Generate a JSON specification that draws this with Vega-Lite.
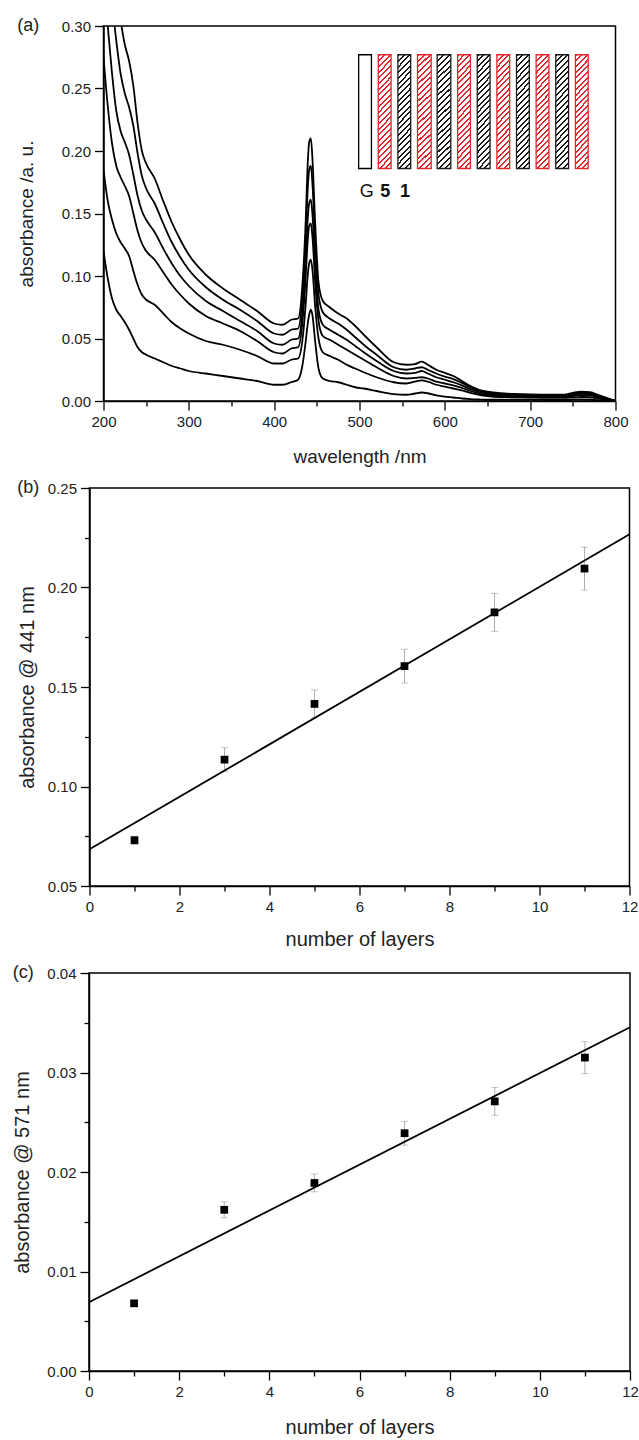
{
  "$schema": "https://vega.github.io/schema/vega-lite/v6.json",
  "padding": {"left": 12, "top": 16, "right": 0, "bottom": 0},
  "config": {
    "font": "Liberation Sans",
    "view": {"stroke": "black", "strokeWidth": 1.5},
    "axis": {"grid": false, "domainColor": "black", "domainWidth": 1.5, "tickColor": "black", "tickWidth": 1.3, "labelFontSize": 15, "labelColor": "#222", "titleFontSize": 19, "titleFontWeight": "normal", "titleColor": "#222", "labelPadding": 4, "labelFlush": false, "labelOverlap": false},
    "title": {"fontSize": 18, "fontWeight": "normal", "anchor": "start", "frame": "bounds", "color": "#222", "offset": -16}
  },
  "datasets": {
    "inset": [
      {"slot": 0, "material": "G", "nm_start": 499, "nm_end": 514},
      {"slot": 1, "material": "5", "nm_start": 522, "nm_end": 537},
      {"slot": 2, "material": "1", "nm_start": 545, "nm_end": 560},
      {"slot": 3, "material": "5", "nm_start": 568, "nm_end": 584},
      {"slot": 4, "material": "1", "nm_start": 591, "nm_end": 607},
      {"slot": 5, "material": "5", "nm_start": 615, "nm_end": 630},
      {"slot": 6, "material": "1", "nm_start": 638, "nm_end": 653},
      {"slot": 7, "material": "5", "nm_start": 661, "nm_end": 676},
      {"slot": 8, "material": "1", "nm_start": 684, "nm_end": 699},
      {"slot": 9, "material": "5", "nm_start": 707, "nm_end": 722},
      {"slot": 10, "material": "1", "nm_start": 730, "nm_end": 745},
      {"slot": 11, "material": "5", "nm_start": 753, "nm_end": 768}
    ]
  },
  "concat": [
    {
      "width": 512,
      "height": 375,
      "title": {"text": "(a)"},
      "layer": [
        {
          "data": {"values": [
            {"layers":1,"wavelength":200,"absorbance":0.120},{"layers":1,"wavelength":205,"absorbance":0.098},{"layers":1,"wavelength":210,"absorbance":0.082},{"layers":1,"wavelength":215,"absorbance":0.073},{"layers":1,"wavelength":220,"absorbance":0.068},{"layers":1,"wavelength":225,"absorbance":0.063},{"layers":1,"wavelength":230,"absorbance":0.057},{"layers":1,"wavelength":235,"absorbance":0.050},{"layers":1,"wavelength":240,"absorbance":0.043},{"layers":1,"wavelength":245,"absorbance":0.039},{"layers":1,"wavelength":250,"absorbance":0.037},{"layers":1,"wavelength":260,"absorbance":0.034},{"layers":1,"wavelength":270,"absorbance":0.031},{"layers":1,"wavelength":280,"absorbance":0.028},{"layers":1,"wavelength":290,"absorbance":0.026},{"layers":1,"wavelength":300,"absorbance":0.024},{"layers":1,"wavelength":320,"absorbance":0.022},{"layers":1,"wavelength":340,"absorbance":0.020},{"layers":1,"wavelength":360,"absorbance":0.018},{"layers":1,"wavelength":380,"absorbance":0.016},{"layers":1,"wavelength":400,"absorbance":0.013},{"layers":1,"wavelength":410,"absorbance":0.013},{"layers":1,"wavelength":420,"absorbance":0.015},{"layers":1,"wavelength":428,"absorbance":0.017},{"layers":1,"wavelength":433,"absorbance":0.028},{"layers":1,"wavelength":437,"absorbance":0.048},{"layers":1,"wavelength":439,"absorbance":0.060},{"layers":1,"wavelength":441,"absorbance":0.069},{"layers":1,"wavelength":443,"absorbance":0.073},{"layers":1,"wavelength":445,"absorbance":0.068},{"layers":1,"wavelength":448,"absorbance":0.048},{"layers":1,"wavelength":452,"absorbance":0.026},{"layers":1,"wavelength":457,"absorbance":0.018},{"layers":1,"wavelength":465,"absorbance":0.016},{"layers":1,"wavelength":475,"absorbance":0.015},{"layers":1,"wavelength":485,"absorbance":0.013},{"layers":1,"wavelength":495,"absorbance":0.011},{"layers":1,"wavelength":505,"absorbance":0.010},{"layers":1,"wavelength":520,"absorbance":0.008},{"layers":1,"wavelength":540,"absorbance":0.0055},{"layers":1,"wavelength":555,"absorbance":0.005},{"layers":1,"wavelength":565,"absorbance":0.006},{"layers":1,"wavelength":573,"absorbance":0.0068},{"layers":1,"wavelength":580,"absorbance":0.0062},{"layers":1,"wavelength":590,"absorbance":0.0045},{"layers":1,"wavelength":600,"absorbance":0.0035},{"layers":1,"wavelength":610,"absorbance":0.0028},{"layers":1,"wavelength":620,"absorbance":0.002},{"layers":1,"wavelength":630,"absorbance":0.0015},{"layers":1,"wavelength":640,"absorbance":0.0012},{"layers":1,"wavelength":650,"absorbance":0.001},{"layers":1,"wavelength":665,"absorbance":0.001},{"layers":1,"wavelength":680,"absorbance":0.001},{"layers":1,"wavelength":700,"absorbance":0.001},{"layers":1,"wavelength":720,"absorbance":0.0008},{"layers":1,"wavelength":740,"absorbance":0.0008},{"layers":1,"wavelength":750,"absorbance":0.001},{"layers":1,"wavelength":760,"absorbance":0.0012},{"layers":1,"wavelength":770,"absorbance":0.001},{"layers":1,"wavelength":780,"absorbance":0.0006},{"layers":1,"wavelength":790,"absorbance":0.0003},{"layers":1,"wavelength":800,"absorbance":0},
            {"layers":3,"wavelength":200,"absorbance":0.185},{"layers":3,"wavelength":205,"absorbance":0.160},{"layers":3,"wavelength":210,"absorbance":0.145},{"layers":3,"wavelength":215,"absorbance":0.134},{"layers":3,"wavelength":220,"absorbance":0.127},{"layers":3,"wavelength":225,"absorbance":0.122},{"layers":3,"wavelength":230,"absorbance":0.116},{"layers":3,"wavelength":235,"absorbance":0.104},{"layers":3,"wavelength":240,"absorbance":0.093},{"layers":3,"wavelength":245,"absorbance":0.085},{"layers":3,"wavelength":250,"absorbance":0.081},{"layers":3,"wavelength":260,"absorbance":0.077},{"layers":3,"wavelength":270,"absorbance":0.070},{"layers":3,"wavelength":280,"absorbance":0.063},{"layers":3,"wavelength":290,"absorbance":0.058},{"layers":3,"wavelength":300,"absorbance":0.054},{"layers":3,"wavelength":320,"absorbance":0.048},{"layers":3,"wavelength":340,"absorbance":0.045},{"layers":3,"wavelength":360,"absorbance":0.041},{"layers":3,"wavelength":380,"absorbance":0.036},{"layers":3,"wavelength":400,"absorbance":0.030},{"layers":3,"wavelength":410,"absorbance":0.030},{"layers":3,"wavelength":420,"absorbance":0.033},{"layers":3,"wavelength":428,"absorbance":0.034},{"layers":3,"wavelength":433,"absorbance":0.048},{"layers":3,"wavelength":437,"absorbance":0.078},{"layers":3,"wavelength":439,"absorbance":0.098},{"layers":3,"wavelength":441,"absorbance":0.110},{"layers":3,"wavelength":443,"absorbance":0.113},{"layers":3,"wavelength":445,"absorbance":0.104},{"layers":3,"wavelength":448,"absorbance":0.076},{"layers":3,"wavelength":452,"absorbance":0.050},{"layers":3,"wavelength":457,"absorbance":0.039},{"layers":3,"wavelength":465,"absorbance":0.036},{"layers":3,"wavelength":475,"absorbance":0.033},{"layers":3,"wavelength":485,"absorbance":0.029},{"layers":3,"wavelength":495,"absorbance":0.026},{"layers":3,"wavelength":505,"absorbance":0.023},{"layers":3,"wavelength":520,"absorbance":0.019},{"layers":3,"wavelength":540,"absorbance":0.015},{"layers":3,"wavelength":555,"absorbance":0.014},{"layers":3,"wavelength":565,"absorbance":0.0155},{"layers":3,"wavelength":573,"absorbance":0.0165},{"layers":3,"wavelength":580,"absorbance":0.0155},{"layers":3,"wavelength":590,"absorbance":0.013},{"layers":3,"wavelength":600,"absorbance":0.0115},{"layers":3,"wavelength":610,"absorbance":0.010},{"layers":3,"wavelength":620,"absorbance":0.0085},{"layers":3,"wavelength":630,"absorbance":0.0065},{"layers":3,"wavelength":640,"absorbance":0.005},{"layers":3,"wavelength":650,"absorbance":0.004},{"layers":3,"wavelength":665,"absorbance":0.0032},{"layers":3,"wavelength":680,"absorbance":0.003},{"layers":3,"wavelength":700,"absorbance":0.0027},{"layers":3,"wavelength":720,"absorbance":0.0025},{"layers":3,"wavelength":740,"absorbance":0.0025},{"layers":3,"wavelength":750,"absorbance":0.0028},{"layers":3,"wavelength":760,"absorbance":0.0032},{"layers":3,"wavelength":770,"absorbance":0.003},{"layers":3,"wavelength":780,"absorbance":0.002},{"layers":3,"wavelength":790,"absorbance":0.001},{"layers":3,"wavelength":800,"absorbance":0},
            {"layers":5,"wavelength":200,"absorbance":0.275},{"layers":5,"wavelength":205,"absorbance":0.236},{"layers":5,"wavelength":210,"absorbance":0.206},{"layers":5,"wavelength":215,"absorbance":0.188},{"layers":5,"wavelength":220,"absorbance":0.179},{"layers":5,"wavelength":225,"absorbance":0.172},{"layers":5,"wavelength":230,"absorbance":0.164},{"layers":5,"wavelength":235,"absorbance":0.150},{"layers":5,"wavelength":240,"absorbance":0.136},{"layers":5,"wavelength":245,"absorbance":0.126},{"layers":5,"wavelength":250,"absorbance":0.120},{"layers":5,"wavelength":260,"absorbance":0.113},{"layers":5,"wavelength":270,"absorbance":0.103},{"layers":5,"wavelength":280,"absorbance":0.093},{"layers":5,"wavelength":290,"absorbance":0.085},{"layers":5,"wavelength":300,"absorbance":0.078},{"layers":5,"wavelength":320,"absorbance":0.068},{"layers":5,"wavelength":340,"absorbance":0.062},{"layers":5,"wavelength":360,"absorbance":0.056},{"layers":5,"wavelength":380,"absorbance":0.048},{"layers":5,"wavelength":400,"absorbance":0.039},{"layers":5,"wavelength":410,"absorbance":0.038},{"layers":5,"wavelength":420,"absorbance":0.042},{"layers":5,"wavelength":428,"absorbance":0.043},{"layers":5,"wavelength":433,"absorbance":0.062},{"layers":5,"wavelength":437,"absorbance":0.100},{"layers":5,"wavelength":439,"absorbance":0.125},{"layers":5,"wavelength":441,"absorbance":0.140},{"layers":5,"wavelength":443,"absorbance":0.142},{"layers":5,"wavelength":445,"absorbance":0.130},{"layers":5,"wavelength":448,"absorbance":0.096},{"layers":5,"wavelength":452,"absorbance":0.064},{"layers":5,"wavelength":457,"absorbance":0.052},{"layers":5,"wavelength":465,"absorbance":0.049},{"layers":5,"wavelength":475,"absorbance":0.045},{"layers":5,"wavelength":485,"absorbance":0.041},{"layers":5,"wavelength":495,"absorbance":0.037},{"layers":5,"wavelength":505,"absorbance":0.033},{"layers":5,"wavelength":520,"absorbance":0.027},{"layers":5,"wavelength":540,"absorbance":0.020},{"layers":5,"wavelength":555,"absorbance":0.018},{"layers":5,"wavelength":565,"absorbance":0.0185},{"layers":5,"wavelength":573,"absorbance":0.019},{"layers":5,"wavelength":580,"absorbance":0.018},{"layers":5,"wavelength":590,"absorbance":0.0155},{"layers":5,"wavelength":600,"absorbance":0.014},{"layers":5,"wavelength":610,"absorbance":0.0125},{"layers":5,"wavelength":620,"absorbance":0.0105},{"layers":5,"wavelength":630,"absorbance":0.008},{"layers":5,"wavelength":640,"absorbance":0.006},{"layers":5,"wavelength":650,"absorbance":0.005},{"layers":5,"wavelength":665,"absorbance":0.004},{"layers":5,"wavelength":680,"absorbance":0.0037},{"layers":5,"wavelength":700,"absorbance":0.0035},{"layers":5,"wavelength":720,"absorbance":0.0033},{"layers":5,"wavelength":740,"absorbance":0.0033},{"layers":5,"wavelength":750,"absorbance":0.004},{"layers":5,"wavelength":760,"absorbance":0.0048},{"layers":5,"wavelength":770,"absorbance":0.0045},{"layers":5,"wavelength":780,"absorbance":0.003},{"layers":5,"wavelength":790,"absorbance":0.0015},{"layers":5,"wavelength":800,"absorbance":0},
            {"layers":7,"wavelength":200,"absorbance":0.340},{"layers":7,"wavelength":205,"absorbance":0.300},{"layers":7,"wavelength":210,"absorbance":0.262},{"layers":7,"wavelength":215,"absorbance":0.232},{"layers":7,"wavelength":220,"absorbance":0.216},{"layers":7,"wavelength":225,"absorbance":0.207},{"layers":7,"wavelength":230,"absorbance":0.197},{"layers":7,"wavelength":235,"absorbance":0.181},{"layers":7,"wavelength":240,"absorbance":0.164},{"layers":7,"wavelength":245,"absorbance":0.152},{"layers":7,"wavelength":250,"absorbance":0.145},{"layers":7,"wavelength":260,"absorbance":0.135},{"layers":7,"wavelength":270,"absorbance":0.122},{"layers":7,"wavelength":280,"absorbance":0.110},{"layers":7,"wavelength":290,"absorbance":0.100},{"layers":7,"wavelength":300,"absorbance":0.092},{"layers":7,"wavelength":320,"absorbance":0.080},{"layers":7,"wavelength":340,"absorbance":0.072},{"layers":7,"wavelength":360,"absorbance":0.064},{"layers":7,"wavelength":380,"absorbance":0.056},{"layers":7,"wavelength":400,"absorbance":0.046},{"layers":7,"wavelength":410,"absorbance":0.045},{"layers":7,"wavelength":420,"absorbance":0.049},{"layers":7,"wavelength":428,"absorbance":0.050},{"layers":7,"wavelength":433,"absorbance":0.070},{"layers":7,"wavelength":437,"absorbance":0.112},{"layers":7,"wavelength":439,"absorbance":0.142},{"layers":7,"wavelength":441,"absorbance":0.158},{"layers":7,"wavelength":443,"absorbance":0.161},{"layers":7,"wavelength":445,"absorbance":0.148},{"layers":7,"wavelength":448,"absorbance":0.110},{"layers":7,"wavelength":452,"absorbance":0.073},{"layers":7,"wavelength":457,"absorbance":0.061},{"layers":7,"wavelength":465,"absorbance":0.057},{"layers":7,"wavelength":475,"absorbance":0.053},{"layers":7,"wavelength":485,"absorbance":0.049},{"layers":7,"wavelength":495,"absorbance":0.044},{"layers":7,"wavelength":505,"absorbance":0.039},{"layers":7,"wavelength":520,"absorbance":0.032},{"layers":7,"wavelength":540,"absorbance":0.024},{"layers":7,"wavelength":555,"absorbance":0.022},{"layers":7,"wavelength":565,"absorbance":0.0225},{"layers":7,"wavelength":573,"absorbance":0.024},{"layers":7,"wavelength":580,"absorbance":0.022},{"layers":7,"wavelength":590,"absorbance":0.019},{"layers":7,"wavelength":600,"absorbance":0.017},{"layers":7,"wavelength":610,"absorbance":0.015},{"layers":7,"wavelength":620,"absorbance":0.0125},{"layers":7,"wavelength":630,"absorbance":0.0095},{"layers":7,"wavelength":640,"absorbance":0.0072},{"layers":7,"wavelength":650,"absorbance":0.006},{"layers":7,"wavelength":665,"absorbance":0.005},{"layers":7,"wavelength":680,"absorbance":0.0045},{"layers":7,"wavelength":700,"absorbance":0.0042},{"layers":7,"wavelength":720,"absorbance":0.004},{"layers":7,"wavelength":740,"absorbance":0.004},{"layers":7,"wavelength":750,"absorbance":0.005},{"layers":7,"wavelength":760,"absorbance":0.006},{"layers":7,"wavelength":770,"absorbance":0.0055},{"layers":7,"wavelength":780,"absorbance":0.0038},{"layers":7,"wavelength":790,"absorbance":0.002},{"layers":7,"wavelength":800,"absorbance":0},
            {"layers":9,"wavelength":200,"absorbance":0.390},{"layers":9,"wavelength":205,"absorbance":0.350},{"layers":9,"wavelength":210,"absorbance":0.318},{"layers":9,"wavelength":215,"absorbance":0.288},{"layers":9,"wavelength":220,"absorbance":0.262},{"layers":9,"wavelength":225,"absorbance":0.246},{"layers":9,"wavelength":230,"absorbance":0.235},{"layers":9,"wavelength":235,"absorbance":0.220},{"layers":9,"wavelength":240,"absorbance":0.198},{"layers":9,"wavelength":245,"absorbance":0.180},{"layers":9,"wavelength":250,"absorbance":0.170},{"layers":9,"wavelength":260,"absorbance":0.158},{"layers":9,"wavelength":270,"absorbance":0.142},{"layers":9,"wavelength":280,"absorbance":0.127},{"layers":9,"wavelength":290,"absorbance":0.115},{"layers":9,"wavelength":300,"absorbance":0.105},{"layers":9,"wavelength":320,"absorbance":0.091},{"layers":9,"wavelength":340,"absorbance":0.081},{"layers":9,"wavelength":360,"absorbance":0.073},{"layers":9,"wavelength":380,"absorbance":0.064},{"layers":9,"wavelength":400,"absorbance":0.054},{"layers":9,"wavelength":410,"absorbance":0.053},{"layers":9,"wavelength":420,"absorbance":0.057},{"layers":9,"wavelength":428,"absorbance":0.058},{"layers":9,"wavelength":433,"absorbance":0.082},{"layers":9,"wavelength":437,"absorbance":0.130},{"layers":9,"wavelength":439,"absorbance":0.165},{"layers":9,"wavelength":441,"absorbance":0.185},{"layers":9,"wavelength":443,"absorbance":0.188},{"layers":9,"wavelength":445,"absorbance":0.172},{"layers":9,"wavelength":448,"absorbance":0.128},{"layers":9,"wavelength":452,"absorbance":0.085},{"layers":9,"wavelength":457,"absorbance":0.071},{"layers":9,"wavelength":465,"absorbance":0.066},{"layers":9,"wavelength":475,"absorbance":0.062},{"layers":9,"wavelength":485,"absorbance":0.057},{"layers":9,"wavelength":495,"absorbance":0.051},{"layers":9,"wavelength":505,"absorbance":0.045},{"layers":9,"wavelength":520,"absorbance":0.037},{"layers":9,"wavelength":540,"absorbance":0.027},{"layers":9,"wavelength":555,"absorbance":0.025},{"layers":9,"wavelength":565,"absorbance":0.026},{"layers":9,"wavelength":573,"absorbance":0.027},{"layers":9,"wavelength":580,"absorbance":0.025},{"layers":9,"wavelength":590,"absorbance":0.022},{"layers":9,"wavelength":600,"absorbance":0.0195},{"layers":9,"wavelength":610,"absorbance":0.0175},{"layers":9,"wavelength":620,"absorbance":0.0145},{"layers":9,"wavelength":630,"absorbance":0.011},{"layers":9,"wavelength":640,"absorbance":0.0082},{"layers":9,"wavelength":650,"absorbance":0.0068},{"layers":9,"wavelength":665,"absorbance":0.0057},{"layers":9,"wavelength":680,"absorbance":0.0052},{"layers":9,"wavelength":700,"absorbance":0.0048},{"layers":9,"wavelength":720,"absorbance":0.0046},{"layers":9,"wavelength":740,"absorbance":0.0046},{"layers":9,"wavelength":750,"absorbance":0.0058},{"layers":9,"wavelength":760,"absorbance":0.0068},{"layers":9,"wavelength":770,"absorbance":0.0063},{"layers":9,"wavelength":780,"absorbance":0.0043},{"layers":9,"wavelength":790,"absorbance":0.0022},{"layers":9,"wavelength":800,"absorbance":0},
            {"layers":11,"wavelength":200,"absorbance":0.440},{"layers":11,"wavelength":205,"absorbance":0.390},{"layers":11,"wavelength":210,"absorbance":0.355},{"layers":11,"wavelength":215,"absorbance":0.330},{"layers":11,"wavelength":220,"absorbance":0.305},{"layers":11,"wavelength":225,"absorbance":0.285},{"layers":11,"wavelength":230,"absorbance":0.272},{"layers":11,"wavelength":235,"absorbance":0.252},{"layers":11,"wavelength":240,"absorbance":0.222},{"layers":11,"wavelength":245,"absorbance":0.200},{"layers":11,"wavelength":250,"absorbance":0.190},{"layers":11,"wavelength":260,"absorbance":0.178},{"layers":11,"wavelength":270,"absorbance":0.160},{"layers":11,"wavelength":280,"absorbance":0.143},{"layers":11,"wavelength":290,"absorbance":0.129},{"layers":11,"wavelength":300,"absorbance":0.117},{"layers":11,"wavelength":320,"absorbance":0.101},{"layers":11,"wavelength":340,"absorbance":0.090},{"layers":11,"wavelength":360,"absorbance":0.081},{"layers":11,"wavelength":380,"absorbance":0.072},{"layers":11,"wavelength":400,"absorbance":0.062},{"layers":11,"wavelength":410,"absorbance":0.061},{"layers":11,"wavelength":420,"absorbance":0.065},{"layers":11,"wavelength":428,"absorbance":0.066},{"layers":11,"wavelength":433,"absorbance":0.092},{"layers":11,"wavelength":437,"absorbance":0.145},{"layers":11,"wavelength":439,"absorbance":0.185},{"layers":11,"wavelength":441,"absorbance":0.207},{"layers":11,"wavelength":443,"absorbance":0.210},{"layers":11,"wavelength":445,"absorbance":0.192},{"layers":11,"wavelength":448,"absorbance":0.143},{"layers":11,"wavelength":452,"absorbance":0.095},{"layers":11,"wavelength":457,"absorbance":0.080},{"layers":11,"wavelength":465,"absorbance":0.075},{"layers":11,"wavelength":475,"absorbance":0.070},{"layers":11,"wavelength":485,"absorbance":0.066},{"layers":11,"wavelength":495,"absorbance":0.060},{"layers":11,"wavelength":505,"absorbance":0.053},{"layers":11,"wavelength":520,"absorbance":0.043},{"layers":11,"wavelength":540,"absorbance":0.031},{"layers":11,"wavelength":555,"absorbance":0.029},{"layers":11,"wavelength":565,"absorbance":0.0295},{"layers":11,"wavelength":573,"absorbance":0.0315},{"layers":11,"wavelength":580,"absorbance":0.029},{"layers":11,"wavelength":590,"absorbance":0.025},{"layers":11,"wavelength":600,"absorbance":0.0225},{"layers":11,"wavelength":610,"absorbance":0.020},{"layers":11,"wavelength":620,"absorbance":0.016},{"layers":11,"wavelength":630,"absorbance":0.012},{"layers":11,"wavelength":640,"absorbance":0.009},{"layers":11,"wavelength":650,"absorbance":0.0075},{"layers":11,"wavelength":665,"absorbance":0.0062},{"layers":11,"wavelength":680,"absorbance":0.0056},{"layers":11,"wavelength":700,"absorbance":0.0052},{"layers":11,"wavelength":720,"absorbance":0.005},{"layers":11,"wavelength":740,"absorbance":0.005},{"layers":11,"wavelength":750,"absorbance":0.0065},{"layers":11,"wavelength":760,"absorbance":0.0075},{"layers":11,"wavelength":770,"absorbance":0.007},{"layers":11,"wavelength":780,"absorbance":0.0048},{"layers":11,"wavelength":790,"absorbance":0.0024},{"layers":11,"wavelength":800,"absorbance":0}
          ]},
          "mark": {"type": "line", "clip": true, "color": "black", "strokeWidth": 1.8, "interpolate": "monotone"},
          "encoding": {
            "x": {"field": "wavelength", "type": "quantitative", "title": "wavelength /nm", "scale": {"domain": [200, 800], "nice": false},
                  "axis": {"values": [200,250,300,350,400,450,500,550,600,650,700,750,800], "labelExpr": "datum.value % 100 == 0 ? datum.label : ''", "tickSize": {"condition": {"test": "datum.value % 100 == 0", "value": 9}, "value": 5}, "titlePadding": 18}},
            "y": {"field": "absorbance", "type": "quantitative", "title": "absorbance /a. u.", "scale": {"domain": [0, 0.3], "nice": false},
                  "axis": {"values": [0,0.025,0.05,0.075,0.1,0.125,0.15,0.175,0.2,0.225,0.25,0.275,0.3], "format": ".2f", "labelExpr": "round(datum.value*1000) % 50 == 0 ? format(datum.value, '.2f') : ''", "tickSize": {"condition": {"test": "round(datum.value*1000) % 50 == 0", "value": 9}, "value": 5}, "titlePadding": 25}},
            "detail": {"field": "layers", "type": "nominal"}
          }
        },
        {
          "data": {"name": "inset"},
          "transform": [{"filter": "datum.material == 'G'"}],
          "mark": {"type": "rect", "fill": "white", "stroke": "black", "strokeWidth": 1.3},
          "encoding": {
            "x": {"field": "nm_start", "type": "quantitative", "title": "wavelength /nm"},
            "x2": {"field": "nm_end"},
            "y": {"datum": 0.277, "type": "quantitative", "title": "absorbance /a. u."},
            "y2": {"datum": 0.186}
          }
        },
        {
          "data": {"name": "inset"},
          "transform": [{"filter": "datum.material == '5'"}],
          "mark": {"type": "rect", "stroke": "#e3262c", "strokeWidth": 1.3,
            "fill": {"gradient": "linear", "x1": 0, "y1": 0, "x2": 0.127, "y2": 1.1, "stops": [
              {"offset":0,"color":"#e3262c"},{"offset":0.016,"color":"#e3262c"},{"offset":0.016,"color":"#ffffff"},{"offset":0.045,"color":"#ffffff"},
              {"offset":0.045,"color":"#e3262c"},{"offset":0.061,"color":"#e3262c"},{"offset":0.061,"color":"#ffffff"},{"offset":0.09,"color":"#ffffff"},
              {"offset":0.09,"color":"#e3262c"},{"offset":0.106,"color":"#e3262c"},{"offset":0.106,"color":"#ffffff"},{"offset":0.135,"color":"#ffffff"},
              {"offset":0.135,"color":"#e3262c"},{"offset":0.151,"color":"#e3262c"},{"offset":0.151,"color":"#ffffff"},{"offset":0.18,"color":"#ffffff"},
              {"offset":0.18,"color":"#e3262c"},{"offset":0.196,"color":"#e3262c"},{"offset":0.196,"color":"#ffffff"},{"offset":0.225,"color":"#ffffff"},
              {"offset":0.225,"color":"#e3262c"},{"offset":0.241,"color":"#e3262c"},{"offset":0.241,"color":"#ffffff"},{"offset":0.27,"color":"#ffffff"},
              {"offset":0.27,"color":"#e3262c"},{"offset":0.286,"color":"#e3262c"},{"offset":0.286,"color":"#ffffff"},{"offset":0.315,"color":"#ffffff"},
              {"offset":0.315,"color":"#e3262c"},{"offset":0.331,"color":"#e3262c"},{"offset":0.331,"color":"#ffffff"},{"offset":0.36,"color":"#ffffff"},
              {"offset":0.36,"color":"#e3262c"},{"offset":0.376,"color":"#e3262c"},{"offset":0.376,"color":"#ffffff"},{"offset":0.405,"color":"#ffffff"},
              {"offset":0.405,"color":"#e3262c"},{"offset":0.421,"color":"#e3262c"},{"offset":0.421,"color":"#ffffff"},{"offset":0.45,"color":"#ffffff"},
              {"offset":0.45,"color":"#e3262c"},{"offset":0.466,"color":"#e3262c"},{"offset":0.466,"color":"#ffffff"},{"offset":0.495,"color":"#ffffff"},
              {"offset":0.495,"color":"#e3262c"},{"offset":0.511,"color":"#e3262c"},{"offset":0.511,"color":"#ffffff"},{"offset":0.54,"color":"#ffffff"},
              {"offset":0.54,"color":"#e3262c"},{"offset":0.556,"color":"#e3262c"},{"offset":0.556,"color":"#ffffff"},{"offset":0.585,"color":"#ffffff"},
              {"offset":0.585,"color":"#e3262c"},{"offset":0.601,"color":"#e3262c"},{"offset":0.601,"color":"#ffffff"},{"offset":0.63,"color":"#ffffff"},
              {"offset":0.63,"color":"#e3262c"},{"offset":0.646,"color":"#e3262c"},{"offset":0.646,"color":"#ffffff"},{"offset":0.675,"color":"#ffffff"},
              {"offset":0.675,"color":"#e3262c"},{"offset":0.691,"color":"#e3262c"},{"offset":0.691,"color":"#ffffff"},{"offset":0.72,"color":"#ffffff"},
              {"offset":0.72,"color":"#e3262c"},{"offset":0.736,"color":"#e3262c"},{"offset":0.736,"color":"#ffffff"},{"offset":0.765,"color":"#ffffff"},
              {"offset":0.765,"color":"#e3262c"},{"offset":0.781,"color":"#e3262c"},{"offset":0.781,"color":"#ffffff"},{"offset":0.81,"color":"#ffffff"},
              {"offset":0.81,"color":"#e3262c"},{"offset":0.826,"color":"#e3262c"},{"offset":0.826,"color":"#ffffff"},{"offset":0.855,"color":"#ffffff"},
              {"offset":0.855,"color":"#e3262c"},{"offset":0.871,"color":"#e3262c"},{"offset":0.871,"color":"#ffffff"},{"offset":0.9,"color":"#ffffff"},
              {"offset":0.9,"color":"#e3262c"},{"offset":0.916,"color":"#e3262c"},{"offset":0.916,"color":"#ffffff"},{"offset":0.945,"color":"#ffffff"},
              {"offset":0.945,"color":"#e3262c"},{"offset":0.961,"color":"#e3262c"},{"offset":0.961,"color":"#ffffff"},{"offset":0.99,"color":"#ffffff"},
              {"offset":0.99,"color":"#e3262c"},{"offset":1,"color":"#e3262c"}
            ]}},
          "encoding": {
            "x": {"field": "nm_start", "type": "quantitative", "title": "wavelength /nm"},
            "x2": {"field": "nm_end"},
            "y": {"datum": 0.277, "type": "quantitative", "title": "absorbance /a. u."},
            "y2": {"datum": 0.186}
          }
        },
        {
          "data": {"name": "inset"},
          "transform": [{"filter": "datum.material == '1'"}],
          "mark": {"type": "rect", "stroke": "#1a1a1a", "strokeWidth": 1.3,
            "fill": {"gradient": "linear", "x1": 0, "y1": 0, "x2": 0.127, "y2": 1.1, "stops": [
              {"offset":0,"color":"#1a1a1a"},{"offset":0.016,"color":"#1a1a1a"},{"offset":0.016,"color":"#ffffff"},{"offset":0.045,"color":"#ffffff"},
              {"offset":0.045,"color":"#1a1a1a"},{"offset":0.061,"color":"#1a1a1a"},{"offset":0.061,"color":"#ffffff"},{"offset":0.09,"color":"#ffffff"},
              {"offset":0.09,"color":"#1a1a1a"},{"offset":0.106,"color":"#1a1a1a"},{"offset":0.106,"color":"#ffffff"},{"offset":0.135,"color":"#ffffff"},
              {"offset":0.135,"color":"#1a1a1a"},{"offset":0.151,"color":"#1a1a1a"},{"offset":0.151,"color":"#ffffff"},{"offset":0.18,"color":"#ffffff"},
              {"offset":0.18,"color":"#1a1a1a"},{"offset":0.196,"color":"#1a1a1a"},{"offset":0.196,"color":"#ffffff"},{"offset":0.225,"color":"#ffffff"},
              {"offset":0.225,"color":"#1a1a1a"},{"offset":0.241,"color":"#1a1a1a"},{"offset":0.241,"color":"#ffffff"},{"offset":0.27,"color":"#ffffff"},
              {"offset":0.27,"color":"#1a1a1a"},{"offset":0.286,"color":"#1a1a1a"},{"offset":0.286,"color":"#ffffff"},{"offset":0.315,"color":"#ffffff"},
              {"offset":0.315,"color":"#1a1a1a"},{"offset":0.331,"color":"#1a1a1a"},{"offset":0.331,"color":"#ffffff"},{"offset":0.36,"color":"#ffffff"},
              {"offset":0.36,"color":"#1a1a1a"},{"offset":0.376,"color":"#1a1a1a"},{"offset":0.376,"color":"#ffffff"},{"offset":0.405,"color":"#ffffff"},
              {"offset":0.405,"color":"#1a1a1a"},{"offset":0.421,"color":"#1a1a1a"},{"offset":0.421,"color":"#ffffff"},{"offset":0.45,"color":"#ffffff"},
              {"offset":0.45,"color":"#1a1a1a"},{"offset":0.466,"color":"#1a1a1a"},{"offset":0.466,"color":"#ffffff"},{"offset":0.495,"color":"#ffffff"},
              {"offset":0.495,"color":"#1a1a1a"},{"offset":0.511,"color":"#1a1a1a"},{"offset":0.511,"color":"#ffffff"},{"offset":0.54,"color":"#ffffff"},
              {"offset":0.54,"color":"#1a1a1a"},{"offset":0.556,"color":"#1a1a1a"},{"offset":0.556,"color":"#ffffff"},{"offset":0.585,"color":"#ffffff"},
              {"offset":0.585,"color":"#1a1a1a"},{"offset":0.601,"color":"#1a1a1a"},{"offset":0.601,"color":"#ffffff"},{"offset":0.63,"color":"#ffffff"},
              {"offset":0.63,"color":"#1a1a1a"},{"offset":0.646,"color":"#1a1a1a"},{"offset":0.646,"color":"#ffffff"},{"offset":0.675,"color":"#ffffff"},
              {"offset":0.675,"color":"#1a1a1a"},{"offset":0.691,"color":"#1a1a1a"},{"offset":0.691,"color":"#ffffff"},{"offset":0.72,"color":"#ffffff"},
              {"offset":0.72,"color":"#1a1a1a"},{"offset":0.736,"color":"#1a1a1a"},{"offset":0.736,"color":"#ffffff"},{"offset":0.765,"color":"#ffffff"},
              {"offset":0.765,"color":"#1a1a1a"},{"offset":0.781,"color":"#1a1a1a"},{"offset":0.781,"color":"#ffffff"},{"offset":0.81,"color":"#ffffff"},
              {"offset":0.81,"color":"#1a1a1a"},{"offset":0.826,"color":"#1a1a1a"},{"offset":0.826,"color":"#ffffff"},{"offset":0.855,"color":"#ffffff"},
              {"offset":0.855,"color":"#1a1a1a"},{"offset":0.871,"color":"#1a1a1a"},{"offset":0.871,"color":"#ffffff"},{"offset":0.9,"color":"#ffffff"},
              {"offset":0.9,"color":"#1a1a1a"},{"offset":0.916,"color":"#1a1a1a"},{"offset":0.916,"color":"#ffffff"},{"offset":0.945,"color":"#ffffff"},
              {"offset":0.945,"color":"#1a1a1a"},{"offset":0.961,"color":"#1a1a1a"},{"offset":0.961,"color":"#ffffff"},{"offset":0.99,"color":"#ffffff"},
              {"offset":0.99,"color":"#1a1a1a"},{"offset":1,"color":"#1a1a1a"}
            ]}},
          "encoding": {
            "x": {"field": "nm_start", "type": "quantitative", "title": "wavelength /nm"},
            "x2": {"field": "nm_end"},
            "y": {"datum": 0.277, "type": "quantitative", "title": "absorbance /a. u."},
            "y2": {"datum": 0.186}
          }
        },
        {
          "data": {"name": "inset"},
          "transform": [{"filter": "datum.slot == 0"}],
          "mark": {"type": "text", "fontSize": 18, "fontWeight": "normal", "color": "#111", "align": "center", "baseline": "middle", "dx": 8},
          "encoding": {
            "x": {"field": "nm_start", "type": "quantitative", "title": "wavelength /nm"},
            "y": {"datum": 0.167, "type": "quantitative", "title": "absorbance /a. u."},
            "text": {"field": "material"}
          }
        },
        {
          "data": {"name": "inset"},
          "transform": [{"filter": "datum.slot == 1 || datum.slot == 2"}],
          "mark": {"type": "text", "fontSize": 18, "fontWeight": "bold", "color": "#111", "align": "center", "baseline": "middle", "dx": 7},
          "encoding": {
            "x": {"field": "nm_start", "type": "quantitative", "title": "wavelength /nm"},
            "y": {"datum": 0.167, "type": "quantitative", "title": "absorbance /a. u."},
            "text": {"field": "material"}
          }
        }
      ]
    },
    {
      "width": 540,
      "height": 398,
      "title": {"text": "(b)"},
      "data": {"values": [
        {"layers": 1, "absorbance": 0.073, "error": 0.002},
        {"layers": 3, "absorbance": 0.1135, "error": 0.006},
        {"layers": 5, "absorbance": 0.1415, "error": 0.007},
        {"layers": 7, "absorbance": 0.1605, "error": 0.0085},
        {"layers": 9, "absorbance": 0.1875, "error": 0.0095},
        {"layers": 11, "absorbance": 0.2095, "error": 0.0108}
      ]},
      "encoding": {
        "x": {"field": "layers", "type": "quantitative", "title": "number of layers", "scale": {"domain": [0, 12], "nice": false},
              "axis": {"values": [0,1,2,3,4,5,6,7,8,9,10,11,12], "labelExpr": "datum.value % 2 == 0 ? datum.label : ''", "tickSize": {"condition": {"test": "datum.value % 2 == 0", "value": 9}, "value": 5}, "titlePadding": 15, "titleFontSize": 20}},
        "y": {"field": "absorbance", "type": "quantitative", "title": "absorbance @ 441 nm", "scale": {"domain": [0.05, 0.25], "nice": false, "zero": false},
              "axis": {"values": [0.05,0.075,0.1,0.125,0.15,0.175,0.2,0.225,0.25], "labelExpr": "round(datum.value*1000) % 50 == 0 ? format(datum.value, '.2f') : ''", "tickSize": {"condition": {"test": "round(datum.value*1000) % 50 == 0", "value": 9}, "value": 5}, "titlePadding": 10, "titleFontSize": 20}}
      },
      "layer": [
        {"mark": {"type": "errorbar", "color": "#999999", "thickness": 0.8, "ticks": {"size": 7, "color": "#999999"}}, "encoding": {"yError": {"field": "error"}}},
        {"transform": [{"regression": "absorbance", "on": "layers", "extent": [0, 12]}], "mark": {"type": "line", "color": "black", "strokeWidth": 1.8}},
        {"mark": {"type": "point", "shape": "square", "filled": true, "color": "black", "size": 60, "opacity": 1}}
      ]
    },
    {
      "width": 541,
      "height": 398,
      "title": {"text": "(c)"},
      "data": {"values": [
        {"layers": 1, "absorbance": 0.0068, "error": 0.0003},
        {"layers": 3, "absorbance": 0.0162, "error": 0.0008},
        {"layers": 5, "absorbance": 0.0189, "error": 0.0009},
        {"layers": 7, "absorbance": 0.0239, "error": 0.0012},
        {"layers": 9, "absorbance": 0.0271, "error": 0.0014},
        {"layers": 11, "absorbance": 0.0315, "error": 0.0016}
      ]},
      "encoding": {
        "x": {"field": "layers", "type": "quantitative", "title": "number of layers", "scale": {"domain": [0, 12], "nice": false},
              "axis": {"values": [0,1,2,3,4,5,6,7,8,9,10,11,12], "labelExpr": "datum.value % 2 == 0 ? datum.label : ''", "tickSize": {"condition": {"test": "datum.value % 2 == 0", "value": 9}, "value": 5}, "titlePadding": 18, "titleFontSize": 20}},
        "y": {"field": "absorbance", "type": "quantitative", "title": "absorbance @ 571 nm", "scale": {"domain": [0, 0.04], "nice": false},
              "axis": {"values": [0,0.005,0.01,0.015,0.02,0.025,0.03,0.035,0.04], "labelExpr": "round(datum.value*1000) % 10 == 0 ? format(datum.value, '.2f') : ''", "tickSize": {"condition": {"test": "round(datum.value*1000) % 10 == 0", "value": 9}, "value": 5}, "titlePadding": 14, "titleFontSize": 20}}
      },
      "layer": [
        {"mark": {"type": "errorbar", "color": "#999999", "thickness": 0.8, "ticks": {"size": 7, "color": "#999999"}}, "encoding": {"yError": {"field": "error"}}},
        {"transform": [{"regression": "absorbance", "on": "layers", "extent": [0, 12]}], "mark": {"type": "line", "color": "black", "strokeWidth": 1.8}},
        {"mark": {"type": "point", "shape": "square", "filled": true, "color": "black", "size": 60, "opacity": 1}}
      ]
    }
  ],
  "columns": 1,
  "bounds": "flush",
  "center": true,
  "spacing": 87
}
